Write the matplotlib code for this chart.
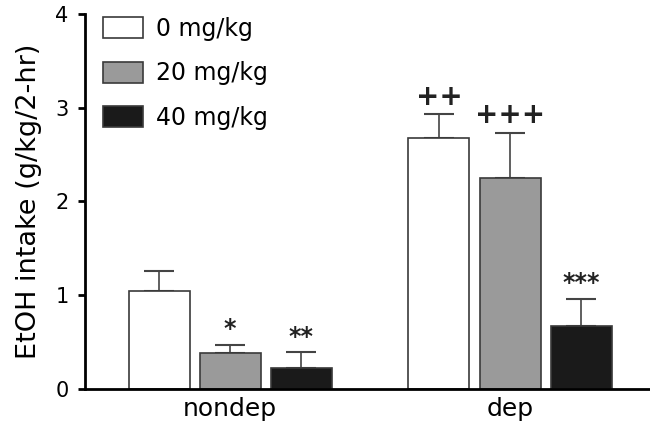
import matplotlib.pyplot as plt
import numpy as np
from matplotlib.patches import Patch

groups = ['nondep', 'dep']
doses = ['0 mg/kg', '20 mg/kg', '40 mg/kg']
means = {
    '0 mg/kg': [1.05, 2.68],
    '20 mg/kg': [0.38, 2.25],
    '40 mg/kg': [0.22, 0.67],
}
sems = {
    '0 mg/kg': [0.21, 0.25],
    '20 mg/kg': [0.09, 0.48],
    '40 mg/kg': [0.17, 0.29],
}
marks = {
    '0 mg/kg': ['', '++'],
    '20 mg/kg': ['*', '+++'],
    '40 mg/kg': ['**', '***'],
}
colors = ['white', '#9a9a9a', '#1a1a1a']

fig = plt.figure(figsize=(6.5, 4.37), dpi=100)
ax = fig.add_axes([0.131, 0.11, 0.869, 0.858])

x = np.arange(len(groups))
step = 0.254
width = 0.218

for i_dose, dose in enumerate(doses):
    pos = x + (i_dose - 1) * step
    ax.bar(pos, means[dose], width, color=colors[i_dose], edgecolor='#3a3a3a',
           linewidth=1.2, zorder=2)
    ax.errorbar(pos, means[dose], yerr=[np.zeros(len(groups)), sems[dose]],
                fmt='none', ecolor='#444444', elinewidth=1.2, capsize=10.5,
                capthick=1.5, zorder=1)
    for p, m, s, label in zip(pos, means[dose], sems[dose], marks[dose]):
        if label:
            size = 20 if '+' in label else 17
            ax.text(p, m + s + 0.04, label, ha='center', va='bottom',
                    fontsize=size, fontweight='bold', color='#222222')

ax.set_xlim(-0.518, 1.5)
ax.set_ylim(0, 4)
ax.set_yticks([0, 1, 2, 3, 4])
ax.set_xticks(x)
ax.set_xticklabels(groups)
ax.tick_params(axis='y', labelsize=15, width=2, length=5, direction='out', pad=7)
ax.tick_params(axis='x', labelsize=18, length=0, pad=6)
ax.set_ylabel('EtOH intake (g/kg/2-hr)', fontsize=19.5)
ax.yaxis.set_label_coords(-0.077, 0.5)

for side in ('top', 'right'):
    ax.spines[side].set_visible(False)
for side in ('left', 'bottom'):
    ax.spines[side].set_linewidth(2)

handles = [Patch(facecolor=c, edgecolor='#3a3a3a', linewidth=1.2) for c in colors]
ax.legend(handles, doses, loc='upper left', bbox_to_anchor=(103 / 650, 1 - 17 / 437),
          bbox_transform=fig.transFigure, frameon=False, fontsize=17,
          handlelength=1.7, handleheight=1.0, labelspacing=0.86,
          handletextpad=0.55, borderpad=0, borderaxespad=0)

fig.savefig('out.png', dpi=100)
